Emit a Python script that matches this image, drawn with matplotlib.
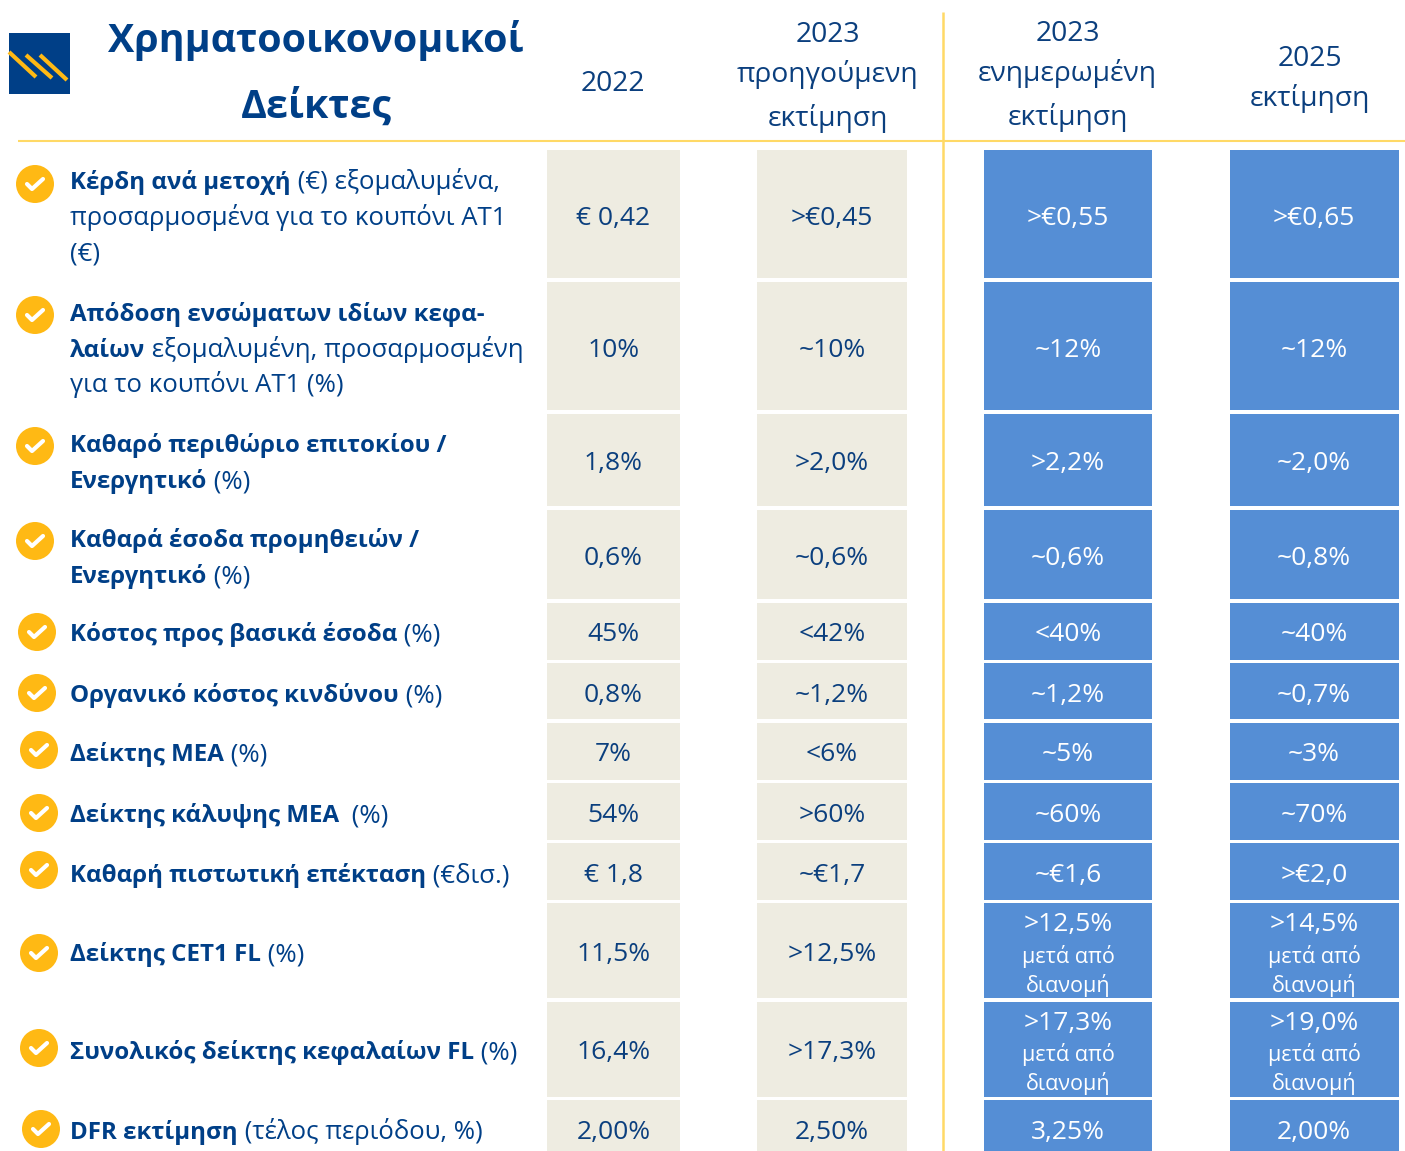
import matplotlib
matplotlib.use('Agg')
import matplotlib.pyplot as plt
from matplotlib.patches import Circle, Rectangle

plt.rcParams['font.family'] = ['Open Sans', 'DejaVu Sans']

NAVY = '#003F87'
GOLD = '#FFB914'
PALE = '#FFD966'
BEIGE = '#EEECE1'
BLUE = '#558ED5'

title = ['Χρηματοοικονομικοί', 'Δείκτες']
headers = [['2022'],
           ['2023', 'προηγούμενη', 'εκτίμηση'],
           ['2023', 'ενημερωμένη', 'εκτίμηση'],
           ['2025', 'εκτίμηση']]

# each label: lines of (text, bold) runs
labels = [
    [[('Κέρδη ανά μετοχή', True), (' (€) εξομαλυμένα,', False)],
     [('προσαρμοσμένα για το κουπόνι ΑΤ1', False)], [('(€)', False)]],
    [[('Απόδοση ενσώματων ιδίων κεφα-', True)],
     [('λαίων', True), (' εξομαλυμένη, προσαρμοσμένη', False)],
     [('για το κουπόνι ΑΤ1 (%)', False)]],
    [[('Καθαρό περιθώριο επιτοκίου /', True)], [('Ενεργητικό', True), (' (%)', False)]],
    [[('Καθαρά έσοδα προμηθειών /', True)], [('Ενεργητικό', True), (' (%)', False)]],
    [[('Κόστος προς βασικά έσοδα', True), (' (%)', False)]],
    [[('Οργανικό κόστος κινδύνου', True), (' (%)', False)]],
    [[('Δείκτης ΜΕΑ', True), (' (%)', False)]],
    [[('Δείκτης κάλυψης ΜΕΑ ', True), (' (%)', False)]],
    [[('Καθαρή πιστωτική επέκταση', True), (' (€δισ.)', False)]],
    [[('Δείκτης CET1 FL', True), (' (%)', False)]],
    [[('Συνολικός δείκτης κεφαλαίων FL', True), (' (%)', False)]],
    [[('DFR εκτίμηση', True), (' (τέλος περιόδου, %)', False)]],
]

val_2022 = ['€ 0,42', '10%', '1,8%', '0,6%', '45%', '0,8%', '7%', '54%', '€ 1,8',
            '11,5%', '16,4%', '2,00%']
val_2023_prev = ['>€0,45', '~10%', '>2,0%', '~0,6%', '<42%', '~1,2%', '<6%', '>60%',
                 '~€1,7', '>12,5%', '>17,3%', '2,50%']
val_2023_upd = ['>€0,55', '~12%', '>2,2%', '~0,6%', '<40%', '~1,2%', '~5%', '~60%',
                '~€1,6', '>12,5%', '>17,3%', '3,25%']
val_2025 = ['>€0,65', '~12%', '~2,0%', '~0,8%', '~40%', '~0,7%', '~3%', '~70%',
            '>€2,0', '>14,5%', '>19,0%', '2,00%']
note = ['μετά από', 'διανομή']
note_rows = [9, 10]

# layout in pixels
row_top = [150, 282, 414, 510, 603, 663, 723, 783, 843, 903, 1002, 1100]
row_bot = [278, 410, 506, 599, 660, 719, 780, 840, 900, 998, 1097, 1151]
val_y = [216, 348, 461, 556, 632, 693, 752, 813, 873, 952, 1050, 1130]
note_y = {9: (922, 955, 984), 10: (1021, 1053, 1082)}
label_y = [(180, 216, 251), (312, 348, 383), (443, 479), (538, 574), (632,), (693,),
           (752,), (813,), (873,), (952,), (1050,), (1130,)]
icon_xy = [(35, 184), (35, 315), (35, 446), (35, 541), (37, 632), (37, 693), (39, 750),
           (39, 813), (39, 870), (39, 953), (39, 1048), (41, 1129)]
col_x = [(547, 680), (757, 907), (984, 1152), (1230, 1399)]
col_cx = [613.5, 832, 1068, 1314]
head_x = [612.5, 827.5, 1067.5, 1309.5]
head_y = [(82,), (33, 73, 117), (32, 72, 116), (57, 97)]

BODY = 18.5
BODY_BOLD = 17.4
VAL = 19
HEAD = 20.3
NOTE = 15.5
BASE = 9

fig = plt.figure(figsize=(14.05, 11.51), dpi=100)
ax = fig.add_axes([0, 0, 1, 1])
ax.set_xlim(0, 1405)
ax.set_ylim(1151, 0)
ax.axis('off')

heights = [b - t for t, b in zip(row_top, row_bot)]
all_vals = [val_2022, val_2023_prev, val_2023_upd, val_2025]
for c, vals in enumerate(all_vals):
    x0, x1 = col_x[c]
    ax.bar([(x0 + x1) / 2] * len(vals), heights, width=x1 - x0, bottom=row_top,
           color=BEIGE if c < 2 else BLUE, linewidth=0)
    col = '#0B3F7E' if c < 2 else 'white'
    for r, v in enumerate(vals):
        if c >= 2 and r in note_rows:
            y1, y2, y3 = note_y[r]
            ax.text(col_cx[c], y1 + BASE, v, color=col, fontsize=VAL, ha='center', va='baseline')
            ax.text(col_cx[c], y2 + 8, note[0], color=col, fontsize=NOTE, ha='center', va='baseline')
            ax.text(col_cx[c], y3 + 8, note[1], color=col, fontsize=NOTE, ha='center', va='baseline')
        else:
            ax.text(col_cx[c], val_y[r] + BASE, v, color=col, fontsize=VAL, ha='center', va='baseline')

# rules
ax.plot([18, 1405], [141, 141], color=PALE, lw=1.5, solid_capstyle='butt')
ax.plot([943, 943], [12, 1151], color=PALE, lw=1.8, solid_capstyle='butt')

# title and headers
ax.text(316, 52, title[0], color=NAVY, fontsize=28.4, fontweight='bold', ha='center', va='baseline')
ax.text(316, 118, title[1], color=NAVY, fontsize=28.4, fontweight='bold', ha='center', va='baseline')
for c, lines in enumerate(headers):
    for line, y in zip(lines, head_y[c]):
        ax.text(head_x[c], y + BASE, line, color='#0B3F7E', fontsize=HEAD, ha='center', va='baseline')

# logo
ax.add_patch(Rectangle((9, 33), 61, 61, color='#003F87', lw=0))
for x0, y0, x1, y1 in [(9, 52, 36, 77), (26, 55, 52, 78), (40, 55, 67, 80)]:
    ax.plot([x0, x1], [y0, y1], color=GOLD, lw=3, solid_capstyle='butt')

# row labels with bold and regular runs side by side
fig.canvas.draw()
rend = fig.canvas.get_renderer()
for r, lines in enumerate(labels):
    for runs, y in zip(lines, label_y[r]):
        x = 70
        for s, bold in runs:
            s = s.replace(' ', '\u00a0')  # keeps trailing spaces in the measured width
            t = ax.text(x, y + BASE, s, color=NAVY, fontsize=BODY_BOLD if bold else BODY,
                        fontweight='bold' if bold else 'normal', ha='left', va='baseline')
            x += t.get_window_extent(rend).width

# check icons
for cx, cy in icon_xy:
    ax.add_patch(Circle((cx, cy), 19, color=GOLD, lw=0))
    ax.plot([cx - 8, cx - 3, cx + 8], [cy, cy + 5, cy - 5], color='white', lw=3,
            solid_capstyle='round', solid_joinstyle='round')

fig.savefig('out.png', dpi=100)
